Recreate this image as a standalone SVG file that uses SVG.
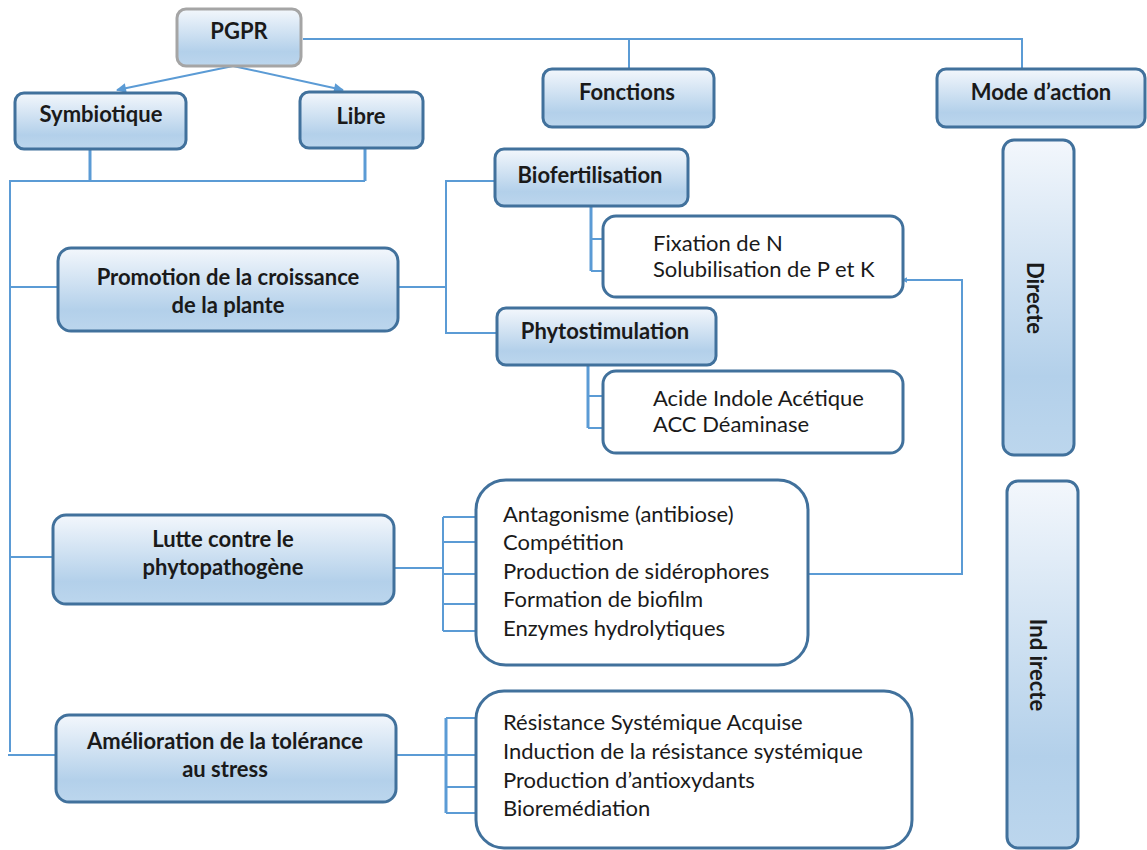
<svg xmlns="http://www.w3.org/2000/svg" width="1147" height="850" viewBox="0 0 1147 850">
<defs>
<linearGradient id="gv" x1="0" y1="0" x2="0" y2="1">
<stop offset="0" stop-color="#f3f7fc"/>
<stop offset="0.75" stop-color="#b3d0ea"/>
<stop offset="1" stop-color="#bcd6ed"/>
</linearGradient>
<marker id="ah" viewBox="0 0 10 10" refX="9" refY="5" markerWidth="6" markerHeight="6" orient="auto" markerUnits="userSpaceOnUse">
<path d="M0,0 L10,5 L0,10 z" fill="#5b9bd5"/>
</marker>
<marker id="ah2" viewBox="0 0 10 10" refX="9" refY="5" markerWidth="12" markerHeight="10" orient="auto" markerUnits="userSpaceOnUse">
<path d="M0,0 L10,5 L0,10 z" fill="#5b9bd5"/>
</marker>
</defs>
<style>
.box{fill:url(#gv);stroke:#41719c;stroke-width:3}
.root{fill:url(#gv);stroke:#a5a5a5;stroke-width:3}
.list{fill:#ffffff;stroke:#41719c;stroke-width:3}
.t{font-family:Lato,"Liberation Sans",sans-serif;font-weight:bold;font-size:22px;fill:#1a1a1a;text-anchor:middle}
.i{font-family:Lato,"Liberation Sans",sans-serif;font-size:22px;fill:#1a1a1a}
.c{fill:none;stroke:#5b9bd5;stroke-width:2}
.ct{fill:none;stroke:#5b9bd5;stroke-width:3}
</style>
<g id="connectors">
<path class="c" d="M233,66 L117,90" marker-end="url(#ah2)"/>
<path class="c" d="M233,66 L343,90" marker-end="url(#ah2)"/>
<path class="c" d="M303,39 H1022 V69"/>
<path class="c" d="M629,39 V69"/>
<path class="ct" d="M90,149 V181"/>
<path class="ct" d="M365,148 V181"/>
<path class="c" d="M365,181 H10 V752"/>
<path class="c" d="M10,287 H58"/>
<path class="c" d="M10,557 H53"/>
<path class="c" d="M8,755 H56"/>
<path class="c" d="M398,287 H446"/>
<path class="c" d="M495,181 H446 V333 H497"/>
<path class="ct" d="M591,206 V271"/>
<path class="c" d="M591,239 H640 M591,271 H640"/>
<path class="ct" d="M588,365 V428"/>
<path class="c" d="M588,396 H640 M588,428 H640"/>
<path class="c" d="M394,568 H443"/>
<path class="c" d="M443,517 V631 M443,517 H491 M443,542 H491 M443,574 H491 M443,604 H491 M443,631 H491"/>
<path class="c" d="M785,574 H962 V280 H902" marker-end="url(#ah)"/>
<path class="c" d="M396,755 H446"/>
<path class="ct" d="M446,718 V813"/>
<path class="c" d="M446,718 H497 M446,755 H497 M446,787 H497 M446,813 H497"/>
</g>
<g id="pgpr"><rect class="root" x="177" y="9" width="124" height="57" rx="9"/><text class="t" x="239" y="39">PGPR</text></g>
<g id="symbiotique"><rect class="box" x="15" y="93" width="171" height="56" rx="9"/><text class="t" x="101" y="122">Symbiotique</text></g>
<g id="libre"><rect class="box" x="300" y="92" width="123" height="56" rx="9"/><text class="t" x="361" y="124">Libre</text></g>
<g id="fonctions"><rect class="box" x="543" y="69" width="171" height="58" rx="9"/><text class="t" x="627" y="100">Fonctions</text></g>
<g id="mode"><rect class="box" x="937" y="69" width="208" height="58" rx="9"/><text class="t" x="1041" y="100">Mode d’action</text></g>
<g id="directe"><rect class="box" x="1003" y="140" width="71" height="315" rx="11"/><text class="t" transform="translate(1034,298) rotate(90)" y="7">Directe</text></g>
<g id="indirecte"><rect class="box" x="1007" y="481" width="71" height="367" rx="11"/><text class="t" transform="translate(1037,665) rotate(90)" y="7">Ind irecte</text></g>
<g id="promotion"><rect class="box" x="58" y="248" width="340" height="83" rx="13"/><text class="t" x="228" y="285">Promotion de la croissance</text><text class="t" x="228" y="313">de la plante</text></g>
<g id="lutte"><rect class="box" x="53" y="515" width="341" height="89" rx="13"/><text class="t" x="223" y="547">Lutte contre le</text><text class="t" x="223" y="575">phytopathogène</text></g>
<g id="amelioration"><rect class="box" x="56" y="715" width="340" height="87" rx="13"/><text class="t" x="225" y="749">Amélioration de la tolérance</text><text class="t" x="225" y="777">au stress</text></g>
<g id="biofertilisation"><rect class="box" x="495" y="149" width="193" height="57" rx="9"/><text class="t" x="590" y="183">Biofertilisation</text></g>
<g id="phytostimulation"><rect class="box" x="497" y="308" width="219" height="57" rx="9"/><text class="t" x="605" y="339">Phytostimulation</text></g>
<g id="biofert-list"><rect class="list" x="603" y="216" width="300" height="81" rx="13"/><text class="i" x="653" y="251">Fixation de N</text><text class="i" x="653" y="277">Solubilisation de P et K</text></g>
<g id="phyto-list"><rect class="list" x="603" y="371" width="300" height="82" rx="13"/><text class="i" x="653" y="406">Acide Indole Acétique</text><text class="i" x="653" y="432">ACC Déaminase</text></g>
<g id="lutte-list"><rect class="list" x="476" y="480" width="332" height="185" rx="30"/>
<text class="i" x="503" y="522">Antagonisme (antibiose)</text>
<text class="i" x="503" y="550">Compétition</text>
<text class="i" x="503" y="579">Production de sidérophores</text>
<text class="i" x="503" y="607">Formation de biofilm</text>
<text class="i" x="503" y="636">Enzymes hydrolytiques</text></g>
<g id="amelioration-list"><rect class="list" x="476" y="691" width="436" height="157" rx="28"/>
<text class="i" x="503" y="730">Résistance Systémique Acquise</text>
<text class="i" x="503" y="759">Induction de la résistance systémique</text>
<text class="i" x="503" y="788">Production d’antioxydants</text>
<text class="i" x="503" y="816">Bioremédiation</text></g>
</svg>
